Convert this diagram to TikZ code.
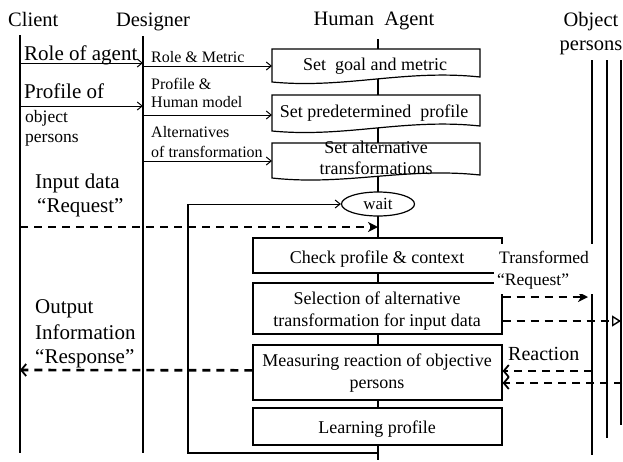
\documentclass[tikz,border=0pt]{standalone}
\usepackage{fontspec}
\setmainfont{Liberation Serif}
\usetikzlibrary{arrows.meta,shapes.geometric}
\begin{document}
\begin{tikzpicture}[x=1pt,y=-1pt,
  lf/.style={line width=1.2pt},
  bx/.style={draw, line width=1.2pt, fill=white},
  arr/.style={line width=1pt,-{Straight Barb[length=5pt,width=8pt,line width=1pt]}},
  dsh/.style={line width=2.6pt, dash pattern=on 8pt off 6pt},
  tx/.style={inner sep=0pt, anchor=base},
  txw/.style={inner sep=0pt, anchor=base west},
  ftitle/.style={font=\fontsize{20.5}{24}\selectfont},
  fbig/.style={font=\fontsize{21}{24}\selectfont},
  fsmall/.style={font=\fontsize{17.5}{20}\selectfont},
  fdes/.style={font=\fontsize{16}{19}\selectfont},
  fbx/.style={font=\fontsize{18}{21}\selectfont},
  rect/.style={bx, inner sep=0pt, minimum width=249pt},
  headfill/.style={-{Stealth[length=10pt,width=10pt,inset=3pt]}},
  headbarb/.style={-{Straight Barb[length=5pt,width=12pt,line width=1.8pt]}}
]
\useasboundingbox (0,0) rectangle (623,461);

% lifeline coordinates
\coordinate (cT) at (20,35);   \coordinate (cB) at (20,453);
\coordinate (dT) at (143,36);  \coordinate (dB) at (143,453);
\coordinate (hT) at (378,39);  \coordinate (hB) at (378,460);
\coordinate (o1T) at (592,60); \coordinate (o1B) at (592,455);
\coordinate (o2T) at (607,60); \coordinate (o2B) at (607,438);
\coordinate (o3T) at (621,60); \coordinate (o3B) at (621,425);

% titles
\node[txw, ftitle] (client) at (8,26) {Client};
\node[tx, ftitle] (designer) at (153,26) {Designer};
\node[tx, ftitle] (human) at (374,25) {Human\ \ Agent};
\node[tx, ftitle] (obj1) at (591,26) {Object};
\node[tx, ftitle] (obj2) at (591,50) {persons};

% lifelines
\draw[lf] (cT) -- (cB);
\draw[lf] (dT) -- (dB);
\draw[lf] (hT) -- (hB);
\draw[lf] (o1T) -- (o1B);
\draw[lf] (o2T) -- (o2B);
\draw[lf] (o3T) -- (o3B);

% loop back to wait
\coordinate (lpB) at (378,453);
\coordinate (lpL) at (188,453);
\coordinate (lpT) at (188,204);

% document boxes
\draw[bx] (272,49) -- (480,49) -- (480,77) .. controls (405,69) and (345,89) .. (272,82) -- cycle;
\draw[bx] (272,95) -- (480,95) -- (480,126) .. controls (405,118) and (345,138) .. (272,131) -- cycle;
\draw[bx] (272,143) -- (480,143) -- (480,175) .. controls (405,167) and (345,186) .. (272,178) -- cycle;
\coordinate (g1w) at (272,66);
\coordinate (g2w) at (272,115);
\coordinate (g3w) at (272,161);
\node[tx, fbx] (g1t) at (375,70) {Set\ \ goal and metric};
\node[tx, fbx] (g2t) at (374,117) {Set predetermined\ \ profile};
\node[tx, fbx] (g3a) at (376,153) {Set alternative};
\node[tx, fbx] (g3b) at (376,174) {transformations};

% wait
\node[draw, ellipse, line width=1.2pt, fill=white, inner sep=0pt, minimum width=73pt, minimum height=24pt, font=\fontsize{17}{20}\selectfont] (wait) at (378,204) {wait};
\draw[lf] (lpB) -- (lpL) -- (lpT);
\draw[arr] (lpT) -- (wait.west);

% process boxes
\node[rect, minimum height=35pt] (check) at (377.5,255.5) {};
\node[rect, minimum height=51pt] (select) at (377.5,308.5) {};
\node[rect, minimum height=55pt] (measure) at (377.5,372.5) {};
\node[rect, minimum height=37pt] (learn) at (377.5,426.5) {};
\node[tx, fbx] (checkt) at (377,263) {Check profile \& context};
\node[tx, fbx] (selta) at (377,304) {Selection of alternative};
\node[tx, fbx] (seltb) at (377,326.5) {transformation for input data};
\node[tx, fbx] (measta) at (377,366.5) {Measuring reaction of objective};
\node[tx, fbx] (meastb) at (377,388) {persons};
\node[tx, fbx] (learnt) at (377,433) {Learning profile};

% client labels
\node[txw, fbig] (l1) at (24,60) {Role of agent};
\node[txw, fbig] (l2) at (24,98) {Profile of};
\node[txw, fsmall] (l3) at (25,122) {object};
\node[txw, fsmall] (l4) at (25,142) {persons};
\node[txw, fbig] (l5) at (35,188) {Input data};
\node[txw, fbig] (l6) at (37,212) {“Request”};
\node[txw, fbig] (l7) at (35,313) {Output};
\node[txw, fbig] (l8) at (35,339) {Information};
\node[txw, fbig] (l9) at (35,363) {“Response”};

% designer labels
\node[txw, fdes] (d1) at (151,62) {Role \& Metric};
\node[txw, fdes] (d2) at (151,89) {Profile \&};
\node[txw, fdes] (d3) at (151,107) {Human model};
\node[txw, fdes] (d4) at (151,137) {Alternatives};
\node[txw, fdes] (d5) at (151,157) {of transformation};

% client -> designer arrows
\coordinate (ca1) at (20,63);  \coordinate (da1) at (143,63);
\coordinate (ca2) at (20,106); \coordinate (da2) at (143,106);
\draw[arr] (ca1) -- (da1);
\draw[arr] (ca2) -- (da2);

% designer -> agent arrows
\draw[arr] (dT |- g1w) -- (g1w);
\draw[arr] (dT |- g2w) -- (g2w);
\draw[arr] (dT |- g3w) -- (g3w);

% input request
\coordinate (inS) at (20,227);
\coordinate (inE) at (378,227);
\draw[dsh, headfill] (inS) -- (inE);

% output response
\coordinate (outE) at (20,370);
\draw[dsh, headbarb] (measure.179) -- (outE);

% transformed request arrows
\coordinate (tr1) at (588,297);
\coordinate (tr2) at (621,321);
\draw[dsh, headfill] (select.east |- tr1) -- (tr1);
\draw[dsh, -{Triangle[open,length=9pt,width=11pt,line width=1.4pt]}] (select.east |- tr2) -- (tr2);

% reaction arrows
\coordinate (re1) at (592,371);
\coordinate (re2) at (622,383);
\draw[dsh, headbarb] (re1) -- (measure.east |- re1);
\draw[dsh, headbarb] (re2) -- (measure.east |- re2);
\node[txw, font=\fontsize{20}{24}\selectfont] (react) at (508,360) {Reaction};

% transformed label with white background
\node[fill=white, inner sep=0pt, minimum width=103pt, minimum height=50pt] (trbg) at (545,269) {};
\node[txw, fsmall] (tra) at (499,263) {Transformed};
\node[txw, fsmall] (trb) at (497,285) {“Request”};
\end{tikzpicture}
\end{document}
